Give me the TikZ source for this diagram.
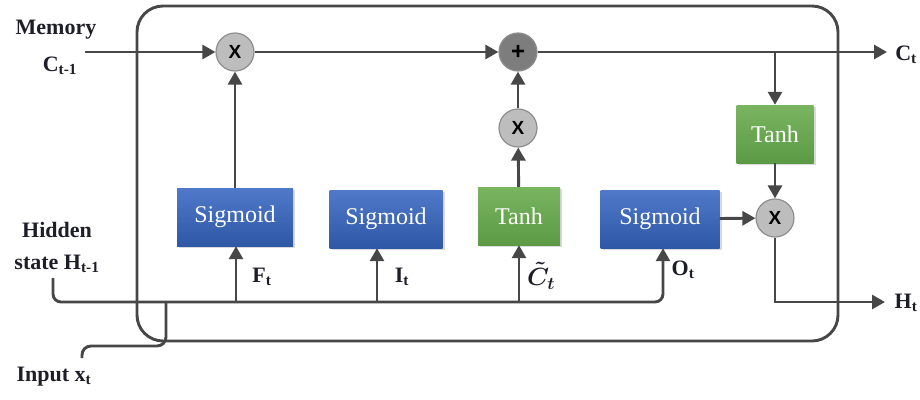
\documentclass[tikz,border=0pt]{standalone}
\usepackage{fontspec}
\setmainfont{Liberation Serif}
\newfontfamily\opfont{Liberation Sans}
\usepackage{tikz}
\usetikzlibrary{arrows.meta, shadows}

\definecolor{wiregray}{HTML}{474747}
\definecolor{sigtop}{HTML}{5079C9}
\definecolor{sigbot}{HTML}{2E57A6}
\definecolor{tanhtop}{HTML}{79B560}
\definecolor{tanhbot}{HTML}{5C9A45}
\definecolor{opfill}{HTML}{BDBDBD}
\definecolor{opedge}{HTML}{8E8E8E}
\definecolor{addfill}{HTML}{7D7D7D}
\definecolor{lblcol}{HTML}{1E1E28}

\begin{document}
\begin{tikzpicture}[x=1pt, y=-1pt,
  wire/.style={line width=2.9pt, draw=wiregray},
  arr/.style={wire, -{Triangle[length=13pt, width=14pt]}},
  gatebox/.style={draw=none, minimum height=58pt, inner sep=0pt, text=white,
    font=\fontsize{24}{26}\selectfont,
    drop shadow={opacity=0.3, shadow xshift=2pt, shadow yshift=-2pt}},
  sigbox/.style={gatebox, top color=sigtop, bottom color=sigbot},
  tanhbox/.style={gatebox, top color=tanhtop, bottom color=tanhbot},
  op/.style={circle, draw=opedge, line width=1.2pt, fill=opfill, minimum size=38pt,
    inner sep=0pt, font=\opfont\bfseries\fontsize{19}{19}\selectfont},
  lbl/.style={font=\bfseries\fontsize{22}{24}\selectfont, text=lblcol, align=center, inner sep=0pt}
]
\useasboundingbox (0,0) rectangle (920,399);

\draw[wire, rounded corners=26pt] (137,6) rectangle (838,341);

\node[sigbox, minimum width=116pt] (Fgate) at (235,217) {Sigmoid};
\node[sigbox, minimum width=113pt] (Igate) at (386,219) {Sigmoid};
\node[tanhbox, minimum width=82pt] (Ctil) at (519,216) {Tanh};
\node[sigbox, minimum width=119pt] (Ogate) at (660,219) {Sigmoid};
\node[tanhbox, minimum width=77pt] (Tanh2) at (775,134) {Tanh};

\node[op] (MulF) at (235,52) {X};
\node[op, fill=addfill, font=\opfont\bfseries\fontsize{24}{24}\selectfont] (Add) at (518,52) {+};
\node[op] (MulC) at (518,128) {X};
\node[op] (MulO) at (775,218) {X};

\node[lbl] (mem) at (56,30) {Memory};
\node[lbl] (cprev) at (60,66) {C\textsubscript{t-1}};
\node[lbl] (hid) at (57,230) {Hidden};
\node[lbl] (hprev) at (57,264) {state H\textsubscript{t-1}};
\node[lbl] (inp) at (54,377) {Input x\textsubscript{t}};
\node[lbl] (ft) at (262,277) {F\textsubscript{t}};
\node[lbl] (it) at (402,277) {I\textsubscript{t}};
\node[lbl, font=\fontsize{24}{26}\selectfont\boldmath] (ct) at (541,276) {$\tilde{C}_t$};
\node[lbl] (ot) at (683,270) {O\textsubscript{t}};
\node[lbl] (cnew) at (906,55) {C\textsubscript{t}};
\node[lbl] (hnew) at (906,303) {H\textsubscript{t}};

\coordinate (cin) at (85,52);
\coordinate (cout) at (887,52);
\coordinate (tap) at (775,52);
\coordinate (hout) at (885,302);
\coordinate (hin) at (53,278);
\coordinate (hbus) at (663,302);
\coordinate (xin) at (82,358);
\coordinate (xup) at (166,302);
\coordinate (fpt) at (236,302);
\coordinate (ipt) at (377,302);
\coordinate (cpt) at (519,302);

\draw[arr] (cin) -- (MulF);
\draw[arr] (MulF) -- (Add);
\draw[arr] (Add) -- (cout);
\draw[arr] (tap) -- (Tanh2);
\draw[arr] (Tanh2) -- (MulO);
\draw[arr] (Fgate) -- (MulF);
\draw[arr] (Ctil) -- (MulC);
\draw[arr] (MulC) -- (Add);
\draw[arr] (Ogate) -- (MulO);
\draw[arr] (MulO) |- (hout);

\draw[arr, rounded corners=8pt] (hin) |- (hbus) -- (hbus |- Ogate.south);
\draw[wire, rounded corners=9pt] (xin) -- ++(0,-12) -| (xup);
\draw[arr] (fpt) -- (fpt |- Fgate.south);
\draw[arr] (ipt) -- (ipt |- Igate.south);
\draw[arr] (cpt) -- (cpt |- Ctil.south);
\end{tikzpicture}
\end{document}
